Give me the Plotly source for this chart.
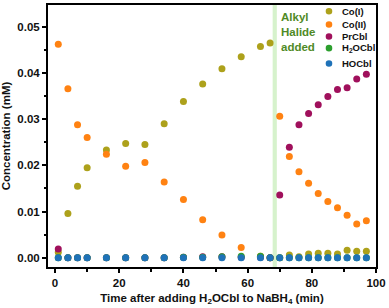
import plotly.graph_objects as go

time = [1, 4, 7, 10, 16, 22, 28, 34, 40, 46, 52, 58, 64, 67, 70, 73, 76, 79, 82, 85, 88, 91, 94, 97]

co1 = [0.0012, 0.0096, 0.0155, 0.0195, 0.0233, 0.0247, 0.0245, 0.0290, 0.0338, 0.0376, 0.0409, 0.0435,
       0.0457, 0.0465, 0.0000, 0.0006, 0.0002, 0.0008, 0.0010, 0.0010, 0.0008, 0.0016, 0.0014, 0.0014]
co2 = [0.0462, 0.0366, 0.0288, 0.0260, 0.0224, 0.0198, 0.0206, 0.0164, 0.0126, 0.0082, 0.0049, 0.0022,
       0.0003, 0.0000, 0.0306, 0.0219, 0.0186, 0.0161, 0.0139, 0.0122, 0.0108, 0.0092, 0.0073, 0.0080]
prcbl = [0.0019, 0.0000, 0.0000, 0.0000, 0.0000, 0.0000, 0.0000, 0.0000, 0.0001, 0.0002, 0.0002, 0.0001,
         0.0001, 0.0000, 0.0136, 0.0239, 0.0288, 0.0312, 0.0331, 0.0349, 0.0364, 0.0368, 0.0387, 0.0397]
h2ocbl = [0.0, 0.0, 0.0, 0.0, 0.0, 0.0, 0.0, 0.0, 0.0001, 0.0001, 0.0002, 0.0003,
          0.0003, 0.0, 0.0, 0.0, 0.0, 0.0, 0.0, 0.0, 0.0, 0.0, 0.0, 0.0]
hocbl = [0.0] * len(time)

names = ["Co(I)", "Co(II)", "PrCbl", "H<sub>2</sub>OCbl", "HOCbl"]
colors = ["#ada11b", "#ff8212", "#a0105c", "#2c9f2e", "#1f72b8"]
series = [co1, co2, prcbl, h2ocbl, hocbl]

x_ticks = [0, 20, 40, 60, 80, 100]
y_ticks = [0.00, 0.01, 0.02, 0.03, 0.04, 0.05]
addition_time = (67.8, 69.1)

fig = go.Figure()
for name, col, ys in zip(names, colors, series):
    fig.add_trace(go.Scatter(x=time, y=ys, mode="markers", name=name,
                             marker=dict(size=7, color=col, line=dict(width=0)),
                             showlegend=False))

# vertical band marking alkyl halide addition
fig.add_shape(type="rect", xref="x", yref="paper", x0=addition_time[0], x1=addition_time[1],
              y0=0, y1=1, fillcolor="#d6f2cc", line=dict(width=0), layer="below")

fig.add_annotation(xref="paper", yref="paper", x=(280 - 48) / 330, y=1 - 4 / 264,
                   xanchor="left", yanchor="top", align="left", showarrow=False,
                   text="<b>Alkyl<br>Halide<br>added</b>",
                   font=dict(family="Arial", size=11.5, color="#4f8a26"))

# custom compact legend
leg_y = [9.3, 22.7, 34.7, 46.5, 62]
for name, col, yy in zip(names, colors, leg_y):
    yp = 1 - (yy - 3) / 264
    xp = (330.7 - 48) / 330
    fig.add_shape(type="circle", xref="paper", yref="paper", xsizemode="pixel", ysizemode="pixel",
                  xanchor=xp, yanchor=yp, x0=-3.3, x1=3.3, y0=-3.3, y1=3.3,
                  fillcolor=col, line=dict(width=0))
    fig.add_annotation(xref="paper", yref="paper", x=(342 - 48) / 330, y=yp, xanchor="left",
                       yanchor="middle", showarrow=False, text="<b>" + name + "</b>",
                       font=dict(family="Arial", size=9.5, color="#111"))

axis_common = dict(showline=True, linecolor="black", linewidth=2, mirror=True, ticks="outside",
                   tickwidth=1.5, ticklen=4, tickcolor="black", showgrid=False, zeroline=False,
                   tickfont=dict(family="Arial", size=11.5, color="#111", weight="bold"))

fig.update_layout(
    width=389, height=308,
    margin=dict(l=48, r=10, t=3, b=41),
    plot_bgcolor="white", paper_bgcolor="white",
    xaxis=dict(range=[-2.2, 100], tickvals=x_ticks, ticktext=[str(v) for v in x_ticks],
               minor=dict(dtick=10, ticks="outside", ticklen=2.5, tickcolor="black"),
               title=dict(text="Time after adding H<sub>2</sub>OCbl to NaBH<sub>4</sub> (min)",
                          font=dict(family="Arial", size=11.5, color="#111", weight="bold"), standoff=6),
               **axis_common),
    yaxis=dict(range=[-0.002, 0.0547], tickvals=y_ticks, ticktext=[f"{v:.2f}" for v in y_ticks],
               minor=dict(dtick=0.005, ticks="outside", ticklen=2.5, tickcolor="black"),
               title=dict(text="Concentration (mM)",
                          font=dict(family="Arial", size=11.5, color="#111", weight="bold"), standoff=6),
               **axis_common),
)

fig.write_html("out.html", config={"displayModeBar": False},
               post_script="document.body.style.margin='0';document.body.style.overflow='hidden';")
